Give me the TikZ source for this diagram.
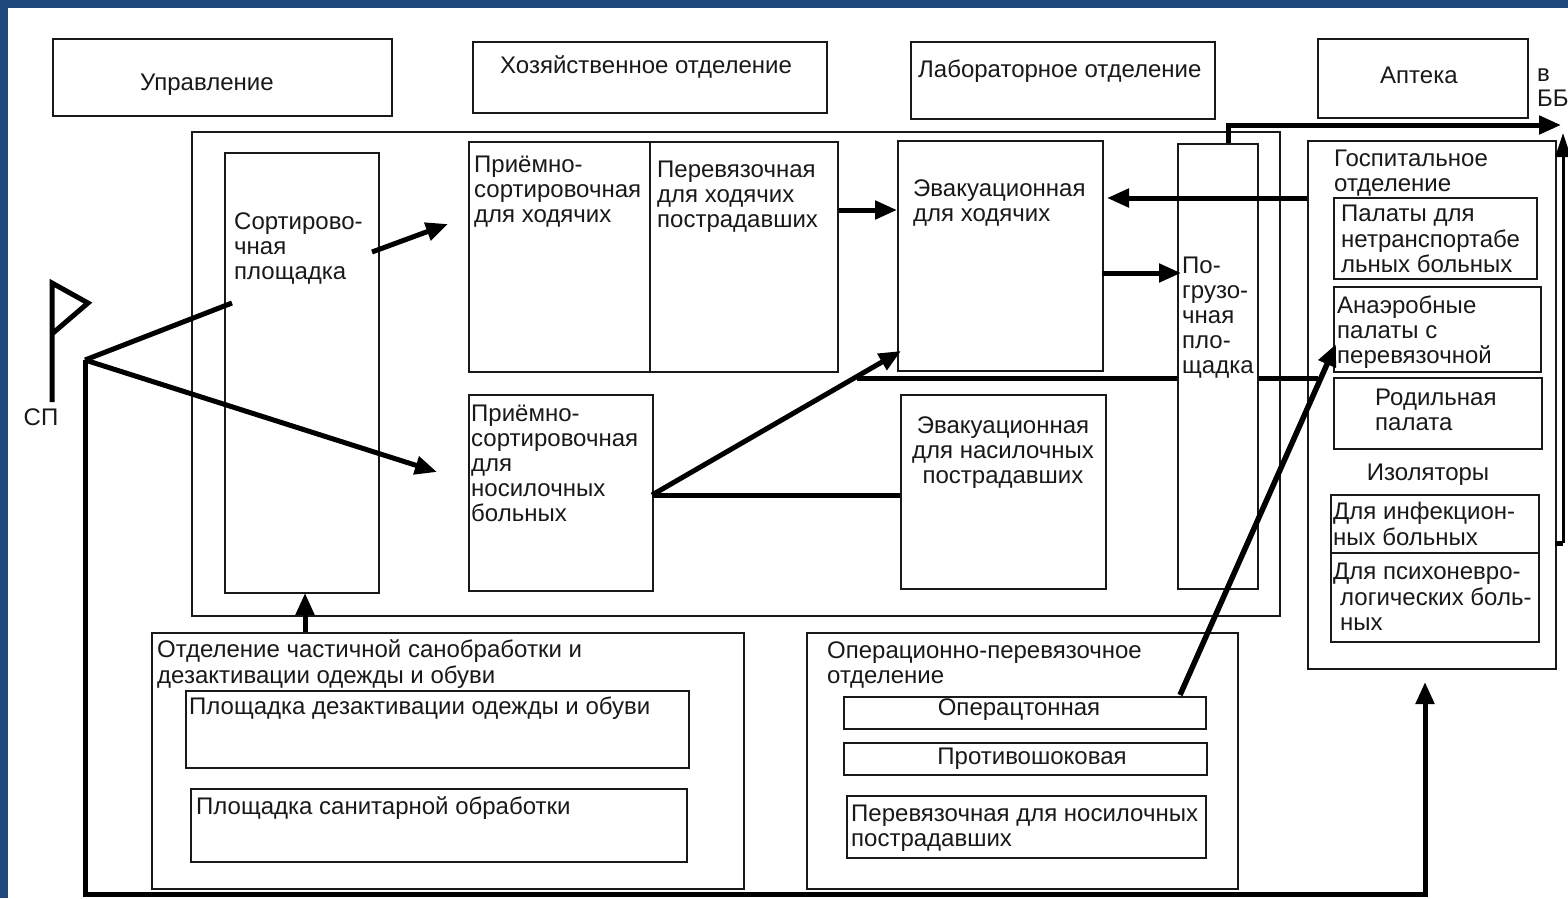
\documentclass[tikz,border=0pt]{standalone}
\usepackage{fontspec}
\setmainfont{Liberation Sans}
\usetikzlibrary{arrows.meta}
\definecolor{frameblue}{RGB}{31,73,125}
\definecolor{ink}{RGB}{25,25,25}
\newcommand\fs{\fontsize{24}{25}\selectfont}
\tikzset{
  box/.style={draw=ink, line width=1.6pt, fill=white, inner sep=0pt, anchor=north west},
  txt/.style={inner sep=0pt, anchor=north west, align=left, text=ink, font=\fs, yshift=-1.5pt},
  ctxt/.style={inner sep=0pt, anchor=north, align=center, text=ink, font=\fs, yshift=-1.5pt},
  flow/.style={line width=5pt, draw=black, -{Triangle[length=22pt,width=18pt]}},
  link/.style={line width=5pt, draw=black},
}
\begin{document}
\begin{tikzpicture}[x=1pt,y=-1pt]
\useasboundingbox (0,0) rectangle (1568,898);
\fill[white] (0,0) rectangle (1568,898);
\fill[frameblue] (0,0) rectangle (1568,8);
\fill[frameblue] (0,0) rectangle (8,898);

% top row
\node[box, minimum width=339pt, minimum height=77pt] (upr) at (52,38) {};
\node[box, minimum width=354pt, minimum height=71pt] (hoz) at (472,41) {};
\node[box, minimum width=304pt, minimum height=77pt] (lab) at (910,41) {};
\node[box, minimum width=210pt, minimum height=79pt] (apt) at (1317,38) {};

% main frame and contents
\node[box, minimum width=1088pt, minimum height=484pt] (outer) at (191,131) {};
\node[box, minimum width=154pt, minimum height=440pt] (sort) at (224,152) {};
\node[box, minimum width=181pt, minimum height=230pt] (prh) at (468,141) {};
\node[box, minimum width=188pt, minimum height=230pt] (pvh) at (649,141) {};
\node[box, minimum width=205pt, minimum height=230pt] (evh) at (897,140) {};
\node[box, minimum width=184pt, minimum height=196pt] (prn) at (468,394) {};
\node[box, minimum width=205pt, minimum height=194pt] (evn) at (900,394) {};

% hospital department
\node[box, minimum width=248pt, minimum height=528pt] (gosp) at (1307,140) {};
\node[box, minimum width=203pt, minimum height=81pt] (pal) at (1333,197) {};
\node[box, minimum width=207pt, minimum height=85pt] (anae) at (1333,286) {};
\node[box, minimum width=208pt, minimum height=71pt] (rod) at (1333,377) {};
\node[box, minimum width=208pt, minimum height=58pt] (inf) at (1330,494) {};
\node[box, minimum width=208pt, minimum height=89pt] (psy) at (1330,552) {};

% bottom departments
\node[box, minimum width=592pt, minimum height=256pt] (san) at (151,632) {};
\node[box, minimum width=503pt, minimum height=77pt] (dez) at (185,690) {};
\node[box, minimum width=496pt, minimum height=73pt] (sanp) at (190,788) {};
\node[box, minimum width=431pt, minimum height=256pt] (oper) at (806,632) {};
\node[box, minimum width=362pt, minimum height=32pt] (opn) at (843,696) {};
\node[box, minimum width=363pt, minimum height=32pt] (psh) at (843,742) {};
\node[box, minimum width=359pt, minimum height=62pt] (pvn) at (846,795) {};

% line under the loading platform
\coordinate (l378a) at (857,378);
\coordinate (l378b) at (1318,378);
\draw[link] (l378a) -- (l378b);

\node[box, minimum width=80pt, minimum height=445pt] (pogr) at (1177,143) {};

% texts
\node[txt] (tupr) at (140,71.5) {\strut Управление};
\node[txt] (thoz) at (500,53.5) {\strut Хозяйственное отделение};
\node[txt] (tlab) at (918,58.5) {\strut Лабораторное отделение};
\node[txt] (tapt) at (1380,64.5) {\strut Аптека};
\node[txt] (tbb) at (1537,62.5) {\strut в\\ББ};
\node[txt] (tsort) at (234,210.5) {\strut Сортирово-\\чная\\площадка};
\node[txt] (tprh) at (474,153.5) {\strut Приёмно-\\сортировочная\\для ходячих};
\node[txt] (tpvh) at (657,158.5) {\strut Перевязочная\\для ходячих\\пострадавших};
\node[txt] (tevh) at (913,177.5) {\strut Эвакуационная\\для ходячих};
\node[txt] (tpogr) at (1182,254.5) {\strut По-\\грузо-\\чная\\пло-\\щадка};
\node[txt] (tprn) at (471,402.5) {\strut Приёмно-\\сортировочная\\для\\носилочных\\больных};
\node[ctxt] (tevn) at (1003,414.5) {\strut Эвакуационная\\для насилочных\\пострадавших};
\node[txt] (tgosp) at (1334,147.5) {\strut Госпитальное\\отделение};
\node[txt] (tpal) at (1341,202.5) {\strut Палаты для\\нетранспортабе\\льных больных};
\node[txt] (tanae) at (1337,294.5) {\strut Анаэробные\\палаты с\\перевязочной};
\node[txt] (trod) at (1375,386.5) {\strut Родильная\\палата};
\node[ctxt] (tizo) at (1428,461.5) {\strut Изоляторы};
\node[txt] (tinf) at (1333,500.5) {\strut Для инфекцион-\\ных больных};
\node[txt] (tpsy) at (1333,560.5) {\strut Для психоневро-\\\hspace*{7pt}логических боль-\\\hspace*{7pt}ных};
\node[txt] (tsan) at (157,637.5) {\strut Отделение частичной санобработки и\\дезактивации одежды и обуви};
\node[txt] (tdez) at (189,695.5) {\strut Площадка дезактивации одежды и обуви};
\node[txt] (tsanp) at (196,794.5) {\strut Площадка санитарной обработки};
\node[txt] (toper) at (827,639.5) {\strut Операционно-перевязочное\\отделение};
\node[ctxt] (topn) at (1019,696.5) {\strut Операцтонная};
\node[ctxt] (tpsh) at (1032,745.5) {\strut Противошоковая};
\node[txt] (tpvn) at (851,802.5) {\strut Перевязочная для носилочных\\пострадавших};
\node[ctxt] (tsp) at (41,406.5) {\strut СП};

% flag
\draw[line width=5pt, line join=miter] (52,402) -- (52,283) -- (88,303) -- (53,333);

% connectors
\coordinate (jn) at (85,360);
\coordinate (c1) at (85,894);
\coordinate (c2) at (1425,894);
\coordinate (tipG) at (1425,682);
\coordinate (sortIn) at (232,303);
\coordinate (tipPrn) at (437,472);
\coordinate (b1) at (372,252);
\coordinate (b2) at (448,224);
\coordinate (cC1) at (839,210);
\coordinate (cC2) at (897,210);
\coordinate (dD1) at (1307,198);
\coordinate (dD2) at (1107,198);
\coordinate (eE1) at (1102,273);
\coordinate (eE2) at (1181,273);
\coordinate (fF1) at (1228,143);
\coordinate (fF2) at (1228,125);
\coordinate (fF3) at (1561,125);
\coordinate (gG1) at (1555,543);
\coordinate (gG2) at (1563,543);
\coordinate (gG3) at (1563,133);
\coordinate (hH1) at (652,495);
\coordinate (hH2) at (900,495);
\coordinate (dg2) at (901,351);
\coordinate (iI1) at (1180,695);
\coordinate (iI2) at (1336,344);
\coordinate (uU1) at (305,632);
\coordinate (uU2) at (305,593);

\draw[flow, line join=miter] (jn) -- (c1) -- (c2) -- (tipG);
\draw[link] (jn) -- (sortIn);
\draw[flow] (jn) -- (tipPrn);
\draw[flow] (b1) -- (b2);
\draw[flow] (cC1) -- (cC2);
\draw[flow] (dD1) -- (dD2);
\draw[flow] (eE1) -- (eE2);
\draw[flow, line join=miter] (fF1) -- (fF2) -- (fF3);
\draw[link] (gG1) -- (gG2);
\draw[line width=3pt, -{Triangle[length=24pt,width=15pt]}] (gG2) -- (gG3);
\draw[link] (hH1) -- (hH2);
\draw[flow] (hH1) -- (dg2);
\draw[flow, line width=5.5pt] (iI1) -- (iI2);
\draw[flow] (uU1) -- (uU2);
\end{tikzpicture}
\end{document}
